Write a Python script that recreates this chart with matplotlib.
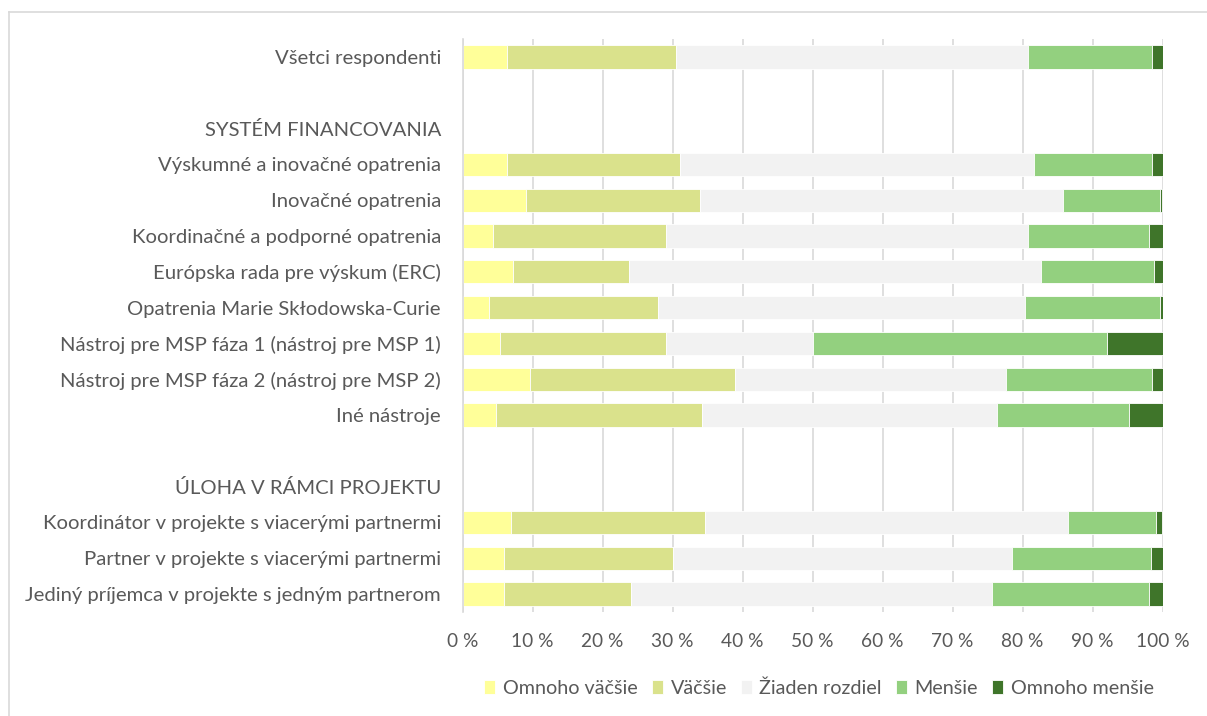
import matplotlib.pyplot as plt
import numpy as np
from matplotlib.lines import Line2D

plt.rcParams['font.family'] = ['Lato', 'DejaVu Sans']

# rows top to bottom; None = header / empty row without a bar
labels = ["Všetci respondenti", "", "SYSTÉM FINANCOVANIA",
          "Výskumné a inovačné opatrenia", "Inovačné opatrenia",
          "Koordinačné a podporné opatrenia", "Európska rada pre výskum (ERC)",
          "Opatrenia Marie Skłodowska-Curie",
          "Nástroj pre MSP fáza 1 (nástroj pre MSP 1)",
          "Nástroj pre MSP fáza 2 (nástroj pre MSP 2)", "Iné nástroje",
          "", "ÚLOHA V RÁMCI PROJEKTU",
          "Koordinátor v projekte s viacerými partnermi",
          "Partner v projekte s viacerými partnermi",
          "Jediný príjemca v projekte s jedným partnerom"]

series = ["Omnoho väčšie", "Väčšie", "Žiaden rozdiel", "Menšie", "Omnoho menšie"]
colors = ["#FFFF99", "#DAE28C", "#F2F2F2", "#93D07F", "#3F752A"]

omnoho_vacsie = [6.4, None, None, 6.4, 9.0, 4.3, 7.2, 3.8, 5.4, 9.7, 4.8, None, None, 6.9, 5.9, 5.9]
vacsie        = [24.1, None, None, 24.7, 24.9, 24.7, 16.6, 24.1, 23.6, 29.2, 29.4, None, None, 27.8, 24.2, 18.2]
ziaden        = [50.3, None, None, 50.5, 51.9, 51.8, 58.8, 52.5, 21.1, 38.8, 42.2, None, None, 51.8, 48.4, 51.5]
mensie        = [17.7, None, None, 16.9, 13.8, 17.2, 16.2, 19.2, 41.9, 20.8, 18.8, None, None, 12.6, 19.8, 22.4]
omnoho_mensie = [1.5, None, None, 1.5, 0.4, 2.0, 1.2, 0.4, 8.0, 1.5, 4.8, None, None, 0.9, 1.7, 2.0]

data = [omnoho_vacsie, vacsie, ziaden, mensie, omnoho_mensie]

W, H = 1207, 716
fig = plt.figure(figsize=(W / 100, H / 100), dpi=100)
ax = fig.add_axes([462.5 / W, 1 - 612 / H, 700 / W, (612 - 39) / H])

y = np.arange(len(labels))
mask = np.array([v is not None for v in omnoho_vacsie])
left = np.zeros(mask.sum())
for name, vals, c in zip(series, data, colors):
    v = np.array([x for x in vals if x is not None], dtype=float)
    ax.barh(y[mask], v, left=left, height=0.65, color=c, label=name,
            edgecolor="white", linewidth=0.6, zorder=2)
    left += v

ax.set_ylim(len(labels) - 0.5, -0.5)
ax.set_xlim(0, 100)
ax.set_yticks(y)
ax.set_yticklabels(labels, fontsize=14.6, color="#595959")
ax.set_xticks(np.arange(0, 101, 10))
ax.set_xticklabels([f"{t} %" for t in range(0, 101, 10)], fontsize=13.8, color="#595959")
ax.tick_params(axis="both", length=0)
ax.tick_params(axis="x", pad=15)
ax.tick_params(axis="y", pad=15.5)
ax.grid(axis="x", color="#D9D9D9", linewidth=1.2, zorder=0)
ax.set_axisbelow(True)
for s in ["top", "right", "bottom"]:
    ax.spines[s].set_visible(False)
ax.spines["left"].set_color("#D9D9D9")
ax.spines["left"].set_linewidth(1.2)

fig.legend(loc="center", bbox_to_anchor=(819 / W, 1 - 688 / H), ncol=5,
           frameon=False, fontsize=14.2, labelcolor="#595959",
           handlelength=0.55, handleheight=0.7, handletextpad=0.4,
           columnspacing=0.7)

# chart border (top and left edges visible)
fig.add_artist(Line2D([8.5 / W, 1], [1 - 11.5 / H, 1 - 11.5 / H], color="#D9D9D9", lw=1.2))
fig.add_artist(Line2D([8.5 / W, 8.5 / W], [0, 1 - 11.5 / H], color="#D9D9D9", lw=1.2))

fig.savefig("out.png", dpi=100)
